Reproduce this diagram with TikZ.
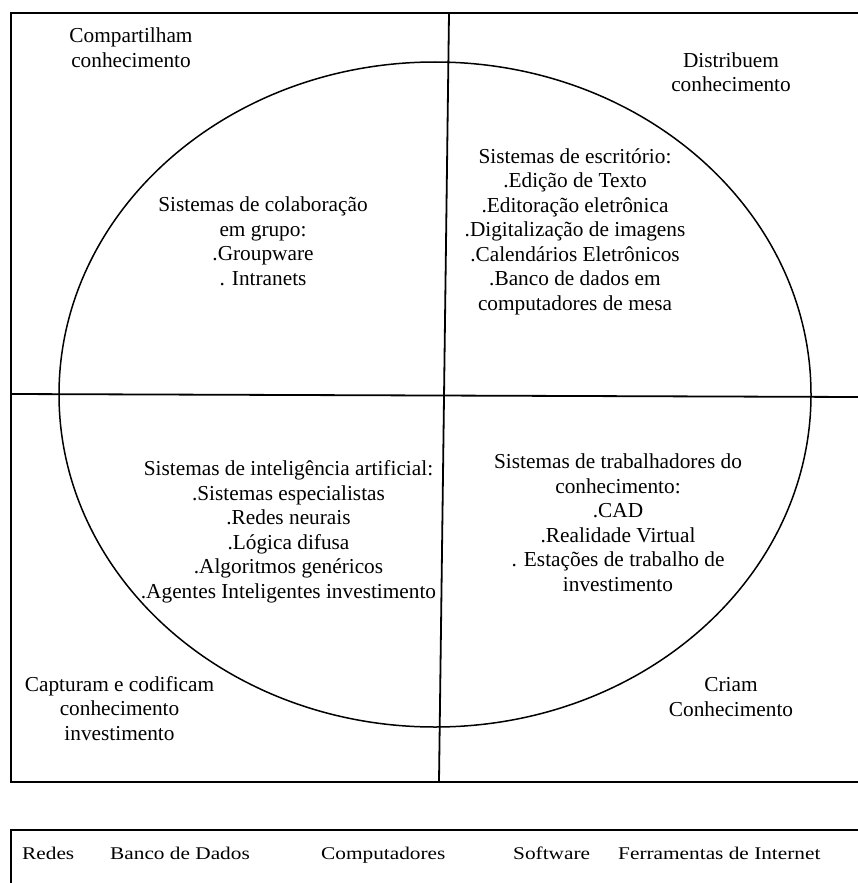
\documentclass[tikz,border=0pt]{standalone}
\usepackage{fontspec}
\usepackage{graphicx}
\setmainfont{Liberation Serif}
\begin{document}
\begin{tikzpicture}[x=1pt,y=-1pt,
  frame/.style={line width=2pt},
  divider/.style={line width=1.8pt},
  oval/.style={line width=1.5pt},
  % multi-line blocks are placed by the baseline of their last line
  block/.style={align=center,inner sep=0pt,anchor=base,
    font=\fontsize{21.3}{24.5}\selectfont},
  tool/.style={inner sep=0pt,anchor=base west,
    font=\fontsize{21.3}{24.5}\selectfont}]
\useasboundingbox (0,0) rectangle (858,883);

% outer frame (open on the right)
\draw[frame] (858,13.5) -- (11,13.5) -- (11,781.5) -- (858,781.5);
% quadrant dividers
\draw[divider] (449,13.5) -- (439,781.5);
\draw[divider] (11,394) -- (858,397);
% central oval
\draw[oval] (435,394.5) ellipse [x radius=376, y radius=332.5];

% corner captions
\node[block] (share) at (131,67) {Compartilham\\conhecimento};
\node[block] (distr) at (731,92) {Distribuem\\conhecimento};
\node[block] (capt) at (119.5,740) {Capturam e codificam\\conhecimento\\investimento};
\node[block] (creat) at (731,716) {Criam\\Conhecimento};

% quadrant contents
\node[block] (collab) at (263,285) {Sistemas de colaboração\\em grupo:\\.Groupware\\. Intranets};
\node[block] (office) at (575,310) {Sistemas de escritório:\\.Edição de Texto\\.Editoração eletrônica\\.Digitalização de imagens\\.Calendários Eletrônicos\\.Banco de dados em\\computadores de mesa};
\node[block] (ai) at (288.5,598) {Sistemas de inteligência artificial:\\.Sistemas especialistas\\.Redes neurais\\.Lógica difusa\\.Algoritmos genéricos\\.Agentes Inteligentes investimento};
\node[block] (kw) at (618,591) {Sistemas de trabalhadores do\\conhecimento:\\.CAD\\.Realidade Virtual\\. Estações de trabalho de\\investimento};

% infrastructure strip
\draw[frame] (858,830) -- (11,830) -- (11,890);
\node[tool] (redes) at (22,859) {\scalebox{1}[0.84]{Redes}};
\node[tool] (banco) at (110,859) {\scalebox{1}[0.84]{Banco de Dados}};
\node[tool] (comp) at (321,859) {\scalebox{1}[0.84]{Computadores}};
\node[tool] (soft) at (513,859) {\scalebox{1}[0.84]{Software}};
\node[tool] (ferr) at (618,859) {\scalebox{1}[0.84]{Ferramentas de Internet}};
\end{tikzpicture}
\end{document}
